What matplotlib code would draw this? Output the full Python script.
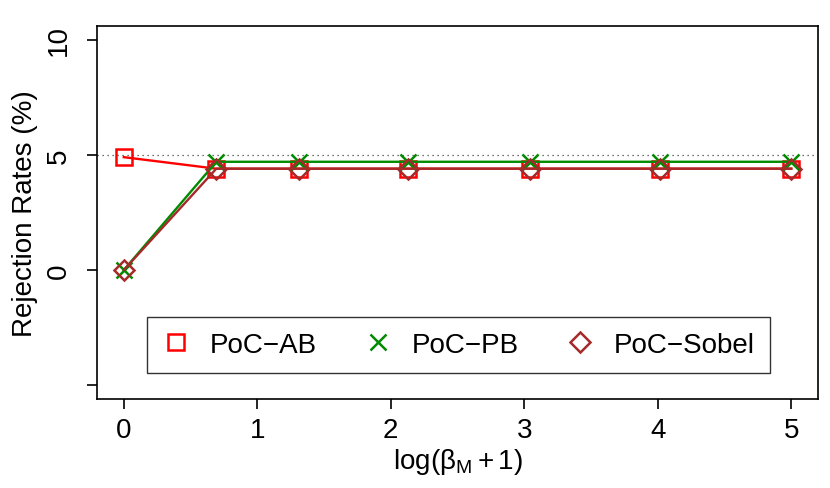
import matplotlib
matplotlib.use('Agg')
import matplotlib.pyplot as plt
from matplotlib.lines import Line2D

plt.rcParams['font.family'] = ['Liberation Sans', 'DejaVu Sans']
plt.rcParams['mathtext.fontset'] = 'custom'
plt.rcParams['mathtext.rm'] = 'Liberation Sans'
plt.rcParams['mathtext.it'] = 'Liberation Sans'
plt.rcParams['mathtext.default'] = 'rm'

# x = log(beta_M + 1)
x_vals = [0, 0.693, 1.31, 2.13, 3.04, 4.02, 5.0]
poc_ab = [4.9, 4.4, 4.4, 4.4, 4.4, 4.4, 4.4]
poc_pb = [0.0, 4.7, 4.7, 4.7, 4.7, 4.7, 4.7]
poc_sobel = [0.0, 4.4, 4.4, 4.4, 4.4, 4.4, 4.4]

x_ticks = [0, 1, 2, 3, 4, 5]
y_ticks = [-5, 0, 5, 10]
y_ticklabels = ['', '0', '5', '10']

fig = plt.figure(figsize=(8.3, 4.89), dpi=100)
ax = fig.add_axes([0.117, 0.182, 0.8685, 0.763])

ax.axhline(5, color='#444444', linestyle=(0, (1, 3)), linewidth=0.9, zorder=1)

ax.plot(x_vals, poc_ab, color='#FF0000', lw=1.7, marker='s', ms=11,
        mfc='none', mew=1.8, label='PoC\u2212AB', zorder=2)
ax.plot(x_vals, poc_pb, color='#008B00', lw=1.7, marker='x', ms=12,
        mew=1.8, label='PoC\u2212PB', zorder=3)
ax.plot(x_vals, poc_sobel, color='#A52A2A', lw=1.7, marker='D', ms=10,
        mfc='none', mew=1.8, label='PoC\u2212Sobel', zorder=4)

ax.set_xlim(-0.2, 5.2)
ax.set_ylim(-5.6, 10.6)
ax.set_xticks(x_ticks)
ax.set_yticks(y_ticks)
ax.set_yticklabels(y_ticklabels, rotation=90, va='center')
ax.tick_params(axis='both', labelsize=20, length=7, width=1.2, direction='out')
ax.tick_params(axis='x', pad=6)
ax.tick_params(axis='y', pad=11)
for s in ax.spines.values():
    s.set_linewidth(1.2)

ax.set_ylabel('Rejection Rates (%)', fontsize=20, labelpad=6)
ax.set_xlabel(r'$\mathrm{log}(\beta_{\mathrm{M}}+1)$', fontsize=20, labelpad=2)

handles, labels = ax.get_legend_handles_labels()
leg_handles = [Line2D([], [], color=h.get_color(), marker=h.get_marker(),
                      ms=h.get_markersize(), mfc='none', mew=1.8, ls='none')
               for h in handles]
leg = ax.legend(leg_handles, labels, loc='center', ncol=3, fontsize=20,
                bbox_to_anchor=(0.069, 0.051, 0.864, 0.188), mode='expand',
                borderaxespad=0, fancybox=False, edgecolor='#333333',
                framealpha=1, handletextpad=0.7, handlelength=1.0,
                borderpad=0.55, columnspacing=1.5)
leg.get_frame().set_linewidth(1.0)

fig.savefig('out.png', dpi=100)
